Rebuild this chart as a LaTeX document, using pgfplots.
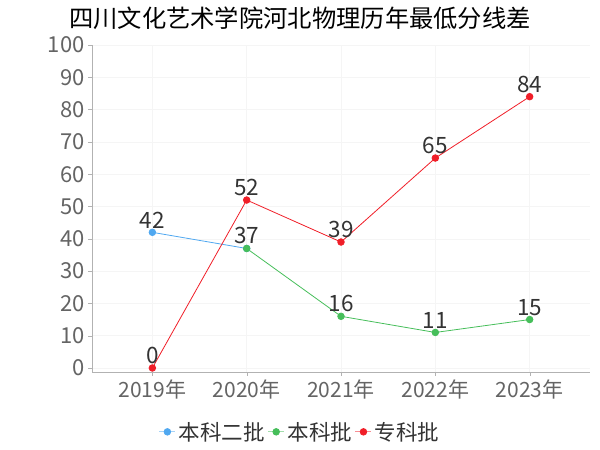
\documentclass[border=0pt]{standalone}
\usepackage{fontspec}
\setmainfont{Noto Sans CJK SC}
\usepackage{pgfplots}
\pgfplotsset{compat=1.18}
\definecolor{cblue}{RGB}{80,168,240}
\definecolor{cgreen}{RGB}{70,190,90}
\definecolor{cred}{RGB}{240,30,40}
\definecolor{tickgray}{RGB}{100,100,100}
\definecolor{labgray}{RGB}{51,51,51}
\begin{document}
\begin{tikzpicture}[x=1bp,y=1bp]
\path (0,0) rectangle (600,450);
\node[font=\fontsize{24.3bp}{26bp}\selectfont, text=black] at (300,432) {四川文化艺术学院河北物理历年最低分线差};
\begin{axis}[
  at={(92bp,78bp)}, anchor=south west,
  scale only axis, width=498bp, height=327bp,
  xmin=-0.64, xmax=4.64, ymin=-1.24, ymax=100,
  xtick={0,1,2,3,4},
  xticklabels={2019年,2020年,2021年,2022年,2023年},
  ytick={0,10,...,100},
  axis x line*=bottom, axis y line*=left,
  axis line style={draw=black!30},
  x axis line style={-}, y axis line style={-},
  grid=major, grid style={draw=black!4},
  tick style={draw=black!30}, major tick length=4bp,
  tick align=outside,
  /pgf/number format/assume math mode=true,
  ticklabel style={text=tickgray},
  yticklabel style={font=\fontsize{22bp}{23bp}\selectfont},
  xticklabel style={font=\fontsize{21bp}{23bp}\selectfont},
  clip=false,
  legend columns=3,
  legend style={at={(0.418,-0.183)}, anchor=center, draw=none, fill=none,
    font=\fontsize{21.5bp}{23bp}\selectfont, text=labgray, column sep=1bp},
  legend image code/.code={\draw[#1, opacity=0.5] (0bp,0bp) -- (16bp,0bp); \draw[#1, mark size=3.3bp, mark repeat=1] plot coordinates {(8bp,0bp)};},
  nodes near coords style={font=\fontsize{22.5bp}{24bp}\selectfont, text=labgray, anchor=south, yshift=0.5bp},
]
\addplot[cblue, line width=0.8bp, mark=*, mark size=3.3bp] coordinates {(0,42) (1,37)};
\addlegendentry{本科二批}
\addplot[cgreen, line width=0.8bp, mark=*, mark size=3.3bp, nodes near coords] coordinates {(1,37) (2,16) (3,11) (4,15)};
\addlegendentry{本科批}
\addplot[cred, line width=0.8bp, mark=*, mark size=3.3bp, nodes near coords] coordinates {(0,0) (1,52) (2,39) (3,65) (4,84)};
\addlegendentry{专科批}
\addplot[draw=none, mark=none, nodes near coords, forget plot] coordinates {(0,42)};
\end{axis}
\end{tikzpicture}
\end{document}
